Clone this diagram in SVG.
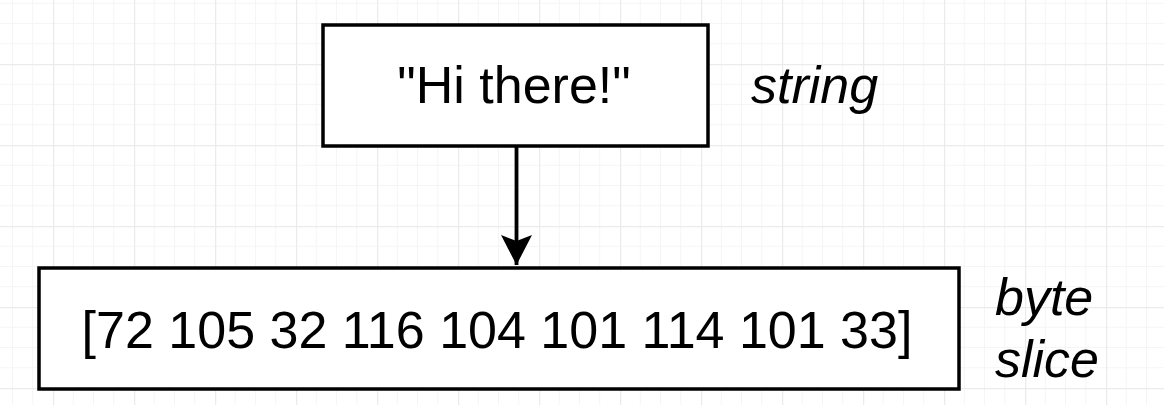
<svg xmlns="http://www.w3.org/2000/svg" width="1164" height="405" viewBox="0 0 1164 405">
  <defs>
    <pattern id="grid" patternUnits="userSpaceOnUse" x="53" y="64" width="81" height="81">
      <path d="M20.25 0V81M40.5 0V81M60.75 0V81M0 20.25H81M0 40.5H81M0 60.75H81" stroke="#f5f5f5" stroke-width="1" fill="none"/>
      <path d="M0.5 0V81M0 0.5H81" stroke="#ebebeb" stroke-width="1.5" fill="none"/>
    </pattern>
    <marker id="arrow" markerUnits="userSpaceOnUse" markerWidth="32" markerHeight="32" refX="30" refY="15.5" orient="auto">
      <path d="M0 0 L30 15.5 L0 31 L6 15.5 Z" fill="#000"/>
    </marker>
    <style>
      .box { fill: #fff; stroke: #000; stroke-width: 3.5; }
      .t { font-family: "Liberation Sans", Arial, sans-serif; font-size: 52px; fill: #000; }
      .it { font-style: italic; }
    </style>
  </defs>
  <rect width="1164" height="405" fill="#fff"/>
  <rect width="1164" height="405" fill="url(#grid)"/>
  <g id="connectors">
    <line x1="516.5" y1="146" x2="516.5" y2="265" stroke="#000" stroke-width="3.8" marker-end="url(#arrow)"/>
  </g>
  <g id="node-string">
    <rect class="box" x="323" y="25" width="385" height="121"/>
    <text class="t" x="514" y="103" text-anchor="middle">"Hi there!"</text>
  </g>
  <g id="label-string">
    <text class="t it" x="751" y="103">string</text>
  </g>
  <g id="node-bytes">
    <rect class="box" x="39" y="268" width="920" height="121"/>
    <text class="t" x="497" y="348" text-anchor="middle">[72 105 32 116 104 101 114 101 33]</text>
  </g>
  <g id="label-bytes">
    <text class="t it" x="995" y="315">byte</text>
    <text class="t it" x="995" y="377">slice</text>
  </g>
</svg>
